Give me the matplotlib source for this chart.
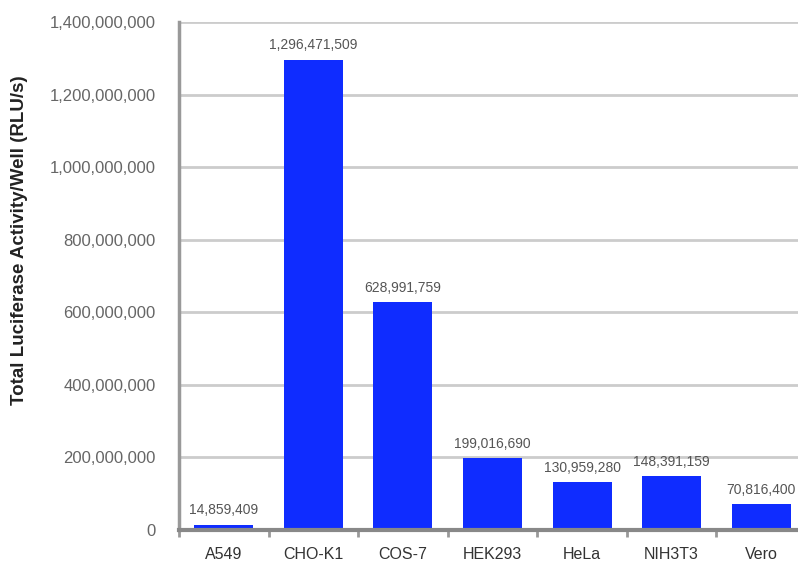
import matplotlib
matplotlib.use("Agg")
import matplotlib.pyplot as plt
import numpy as np

categories = ["A549", "CHO-K1", "COS-7", "HEK293", "HeLa", "NIH3T3", "Vero"]
values = [14859409, 1296471509, 628991759, 199016690, 130959280, 148391159, 70816400]
value_labels = ["14,859,409", "1,296,471,509", "628,991,759", "199,016,690",
                "130,959,280", "148,391,159", "70,816,400"]
yticks = [0, 200000000, 400000000, 600000000, 800000000, 1000000000, 1200000000, 1400000000]

plt.rcParams['font.family'] = ['Liberation Sans', 'DejaVu Sans']

fig = plt.figure(figsize=(7.98, 5.65), dpi=100)
ax = fig.add_axes([179/798, 35/565, 627/798, 508/565])

x = np.arange(len(categories))
ax.bar(x, values, width=0.66, color='#0f2cff', zorder=2)

for xi, v, lab in zip(x, values, value_labels):
    ax.text(xi, v + 20e6, lab, ha='center', va='bottom', fontsize=10, color='#555555', zorder=4)

ax.set_xlim(-0.5, len(categories) - 0.5)
ax.set_ylim(0, 1400000000)
ax.set_yticks(yticks)
ax.set_yticklabels([f"{t:,}" for t in yticks], fontsize=12, color='#666666')
ax.set_xticks(x)
ax.set_xticklabels(categories, fontsize=11.5, color='#333333')
ax.set_xticks(np.arange(-0.5, len(categories), 1.0), minor=True)
ax.tick_params(axis='x', which='major', length=0, pad=12)
ax.tick_params(axis='x', which='minor', length=5, color='#999999', width=2)
ax.tick_params(axis='y', length=0, pad=17)

ax.yaxis.grid(True, color='#cccccc', linewidth=2, zorder=0)
for s in ['top', 'right']:
    ax.spines[s].set_visible(False)
ax.spines['left'].set_color('#999999')
ax.spines['left'].set_linewidth(2.5)
ax.spines['bottom'].set_color('#888888')
ax.spines['bottom'].set_linewidth(3)
ax.spines['left'].set_zorder(3)
ax.spines['bottom'].set_zorder(3)

ax.set_ylabel("Total Luciferase Activity/Well (RLU/s)", fontsize=13.5, fontweight='bold',
              color='#222222')
ax.yaxis.set_label_coords(-0.241, 0.571)

fig.savefig("out.png", dpi=100)
